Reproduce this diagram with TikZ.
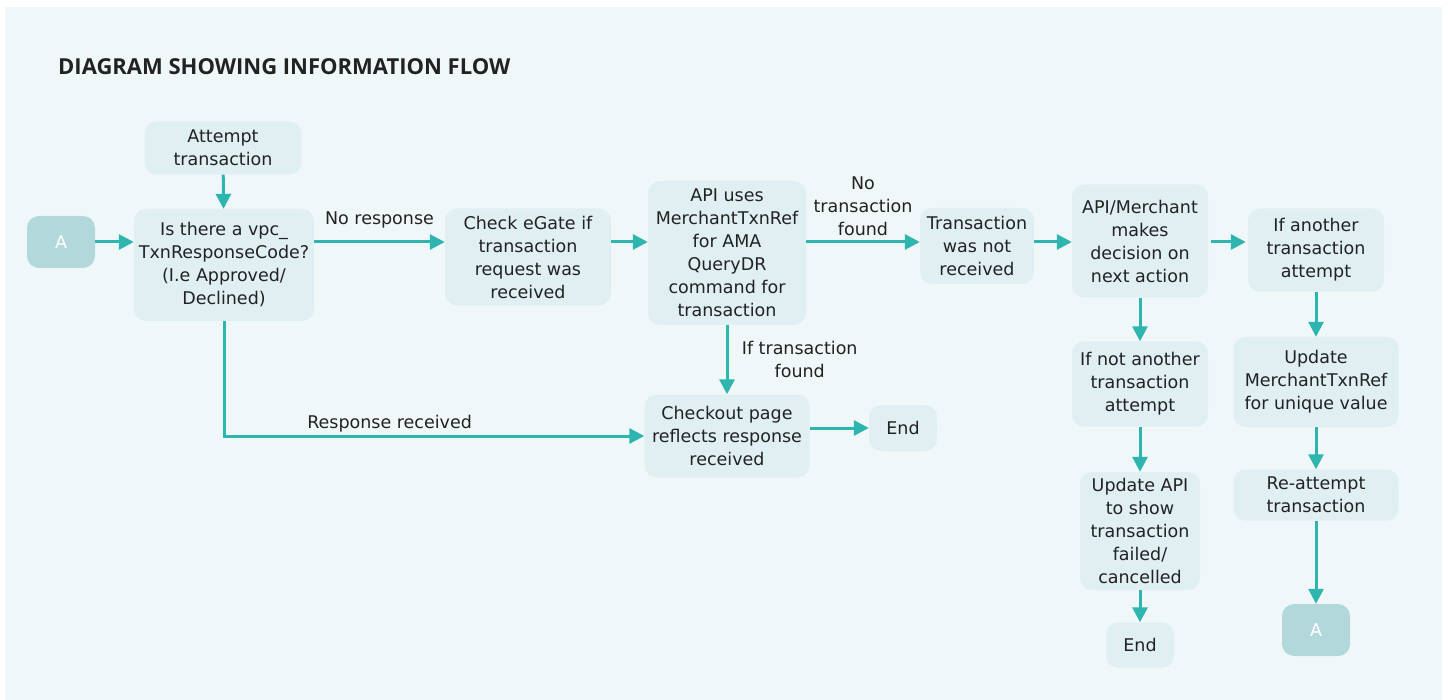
\documentclass[tikz,border=0pt]{standalone}
\usepackage{fontspec}
\setmainfont{DejaVu Sans}
\newfontfamily\titlefont{Open Sans}
\usetikzlibrary{arrows.meta,positioning}
\definecolor{panel}{HTML}{EFF7F9}
\definecolor{boxfill}{HTML}{E0EFF2}
\definecolor{afill}{HTML}{B2D8DC}
\definecolor{flow}{HTML}{2EB5B0}
\definecolor{ink}{HTML}{222222}

\begin{document}
\begin{tikzpicture}[x=1pt,y=-1pt,
		box/.style={fill=boxfill,rounded corners=12pt,align=center,text=ink,inner sep=2pt,
			font=\fontsize{17.5}{23}\selectfont},
		conn/.style={fill=afill,rounded corners=12pt,text=white,minimum width=68pt,minimum height=52pt,
			font=\fontsize{17.5}{23}\selectfont},
		flowline/.style={draw=flow,line width=3pt,-{Triangle[length=15pt,width=15pt]}},
		lbl/.style={text=ink,align=center,font=\fontsize{17.5}{23}\selectfont}]
		\useasboundingbox (0,0) rectangle (1448,700);
		\fill[panel] (5,7) rectangle (1442,700);
		\node[anchor=base west,inner sep=0pt,text=ink,font=\titlefont\fontsize{22}{26}\selectfont\bfseries] (title) at (58,75) {DIAGRAM SHOWING INFORMATION FLOW};
		\coordinate (row) at (0,242);
		%% left part
		\node[conn] (startA) at (61,242) {A};
		\node[box,minimum width=157pt,minimum height=53pt] (attempt) at (223,148) {Attempt\\transaction};
		\node[box,minimum width=180pt,minimum height=112pt] (isthere) at (224,265) {Is there a vpc\_\\TxnResponseCode?\\(I.e Approved/\\Declined)};
		\node[box,minimum width=166pt,minimum height=97pt] (egate) at (528,257) {Check eGate if\\transaction\\request was\\received};
		\node[box,minimum width=158pt,minimum height=144pt] (apiuses) at (727,253) {API uses\\MerchantTxnRef\\for AMA\\QueryDR\\command for\\transaction};
		\node[box,minimum width=165pt,minimum height=83pt] (checkout) at (727,436) {Checkout page\\reflects response\\received};
		\node[box,minimum width=68pt,minimum height=46pt] (endmid) at (903,428) {End};
		\node[box,minimum width=114pt,minimum height=76pt] (notrecv) at (977,246) {Transaction\\was not\\received};
		%% right part
		\node[box,minimum width=136pt,minimum height=113pt] (decision) at (1140,241) {API/Merchant\\makes\\decision on\\next action};
		\node[box,minimum width=136pt,minimum height=85pt] (notanother) at (1140,384) {If not another\\transaction\\attempt};
		\node[box,minimum width=120pt,minimum height=118pt] (updateapi) at (1140,531) {Update API\\to show\\transaction\\failed/\\cancelled};
		\node[box,minimum width=68pt,minimum height=45pt] (endright) at (1140,645) {End};
		\node[box,minimum width=136pt,minimum height=83pt] (another) at (1316,250) {If another\\transaction\\attempt};
		\node[box,minimum width=165pt,minimum height=90pt] (updateref) at (1316,382) {Update\\MerchantTxnRef\\for unique value};
		\node[box,minimum width=165pt,minimum height=51pt] (reattempt) at (1316,495) {Re-attempt\\transaction};
		\node[conn] (endA) at (1316,630) {A};
		%% connectors
		\draw[flowline] (startA.east) -- (isthere.west |- startA);
		\draw[flowline] (attempt) -- (isthere);
		\draw[flowline] (isthere.east |- row) -- node[lbl,above=9pt] (noresp) {No response} (egate.west |- row);
		\draw[flowline] (egate.east |- row) -- (apiuses.west |- row);
		\draw[flowline] (apiuses.east |- row) -- node[lbl,above=1pt] (nofound) {No\\transaction\\found} (notrecv.west |- row);
		\draw[flowline] (notrecv.east |- row) -- (decision.west |- row);
		\draw[flowline] ([xshift=3pt]decision.east |- row) -- ([xshift=-2pt]another.west |- row);
		\draw[flowline] (apiuses) -- node[lbl,right=10pt] (iffound) {If transaction\\found} (checkout);
		\draw[flowline] (isthere.south) |- node[lbl,pos=0.697,above=-1pt] (resprecv) {Response received} (checkout.west);
		\draw[flowline] (checkout.east |- endmid) -- (endmid.west);
		%%
		\draw[flowline] (decision) -- (notanother);
		\draw[flowline] (notanother) -- (updateapi);
		\draw[flowline] (updateapi) -- (endright);
		\draw[flowline] (another) -- (updateref);
		\draw[flowline] (updateref) -- (reattempt);
		\draw[flowline] (reattempt) -- (endA);
	\end{tikzpicture}
\end{document}
